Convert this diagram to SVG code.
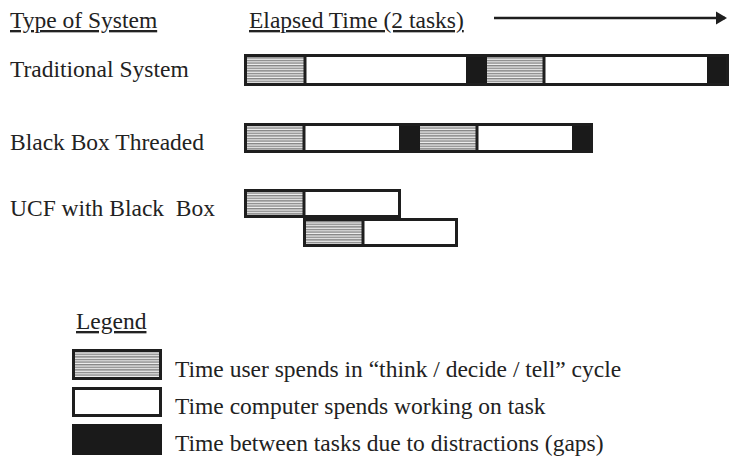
<svg xmlns="http://www.w3.org/2000/svg" width="734" height="463" viewBox="0 0 734 463">
  <style>
    text { font-family: "Liberation Serif", "Times New Roman", serif; font-size: 23.5px; fill: #222222; }
    .u { text-decoration: underline; }
    .pre { white-space: pre; }
    .frame { fill: none; stroke: #1e1e1e; stroke-width: 3; }
    .work { fill: #ffffff; }
    .gap { fill: #1a1a1a; }
    .think { fill: url(#hatch); }
    .div { stroke: #1e1e1e; stroke-width: 3; }
  </style>
  <defs>
    <!-- horizontal ruling used for the think/decide/tell segments -->
    <pattern id="hatch" patternUnits="userSpaceOnUse" width="8" height="2.6">
      <rect width="8" height="2.6" fill="#f2f2f2"/>
      <rect width="8" height="1.4" fill="#858585"/>
    </pattern>
    <marker id="head" markerWidth="12" markerHeight="14" refX="9" refY="7" orient="auto" markerUnits="userSpaceOnUse">
      <path d="M0,0.5 L11,7 L0,13.5 Z" fill="#1e1e1e"/>
    </marker>
  </defs>

  <!-- column headings -->
  <g id="heading-type">
    <text x="10" y="28" class="u">Type of System</text>
  </g>
  <g id="heading-time">
    <text x="249" y="28" class="u">Elapsed Time (2 tasks)</text>
  </g>

  <!-- row labels -->
  <g id="label-traditional"><text x="10" y="77">Traditional System</text></g>
  <g id="label-threaded"><text x="10" y="150">Black Box Threaded</text></g>
  <g id="label-ucf"><text x="10" y="216" class="pre">UCF with Black  Box</text></g>

  <!-- traditional system timeline -->
  <g id="bar-traditional">
    <rect class="think" x="245" y="55" width="60" height="30"/>
    <rect class="work" x="305" y="55" width="161" height="30"/>
    <rect class="gap" x="466" y="55" width="21" height="30"/>
    <rect class="think" x="487" y="55" width="57" height="30"/>
    <rect class="work" x="544" y="55" width="163" height="30"/>
    <rect class="gap" x="707" y="55" width="22" height="30"/>
    <line class="div" x1="305" y1="55" x2="305" y2="85"/>
    <line class="div" x1="544" y1="55" x2="544" y2="85"/>
    <rect class="frame" x="245.5" y="55.5" width="482" height="29"/>
  </g>

  <!-- black box threaded timeline -->
  <g id="bar-threaded">
    <rect class="think" x="245" y="124" width="59" height="28"/>
    <rect class="work" x="304" y="124" width="95" height="28"/>
    <rect class="gap" x="399" y="124" width="21" height="28"/>
    <rect class="think" x="420" y="124" width="57" height="28"/>
    <rect class="work" x="477" y="124" width="95" height="28"/>
    <rect class="gap" x="572" y="124" width="21" height="28"/>
    <line class="div" x1="304" y1="124" x2="304" y2="152"/>
    <line class="div" x1="477" y1="124" x2="477" y2="152"/>
    <rect class="frame" x="245.5" y="124.5" width="346" height="27"/>
  </g>

  <!-- UCF with black box: overlapping tasks -->
  <g id="bar-ucf-1">
    <rect class="think" x="245" y="190" width="59" height="27"/>
    <rect class="work" x="304" y="190" width="96" height="27"/>
    <line class="div" x1="304" y1="190" x2="304" y2="217"/>
    <rect class="frame" x="245.5" y="190.5" width="154" height="26"/>
  </g>
  <g id="bar-ucf-2">
    <rect class="think" x="304" y="219" width="59" height="27"/>
    <rect class="work" x="363" y="219" width="94" height="27"/>
    <line class="div" x1="363" y1="219" x2="363" y2="246"/>
    <rect class="frame" x="304.5" y="219.5" width="152" height="26"/>
  </g>

  <!-- legend -->
  <g id="legend-title"><text x="76" y="329" class="u">Legend</text></g>
  <g id="legend-think">
    <rect class="think" x="73" y="350" width="88" height="29"/>
    <rect class="frame" x="73.5" y="350.5" width="87" height="28"/>
    <text x="175" y="377">Time user spends in “think / decide / tell” cycle</text>
  </g>
  <g id="legend-work">
    <rect class="work" x="73" y="388" width="88" height="28"/>
    <rect class="frame" x="73.5" y="388.5" width="87" height="27"/>
    <text x="175" y="414">Time computer spends working on task</text>
  </g>
  <g id="legend-gap">
    <rect class="gap" x="72" y="424" width="90" height="31"/>
    <text x="175" y="451">Time between tasks due to distractions (gaps)</text>
  </g>

  <!-- elapsed time arrow -->
  <g id="connectors">
    <line x1="494" y1="18" x2="725" y2="18" stroke="#1e1e1e" stroke-width="2.5" marker-end="url(#head)"/>
  </g>
</svg>
